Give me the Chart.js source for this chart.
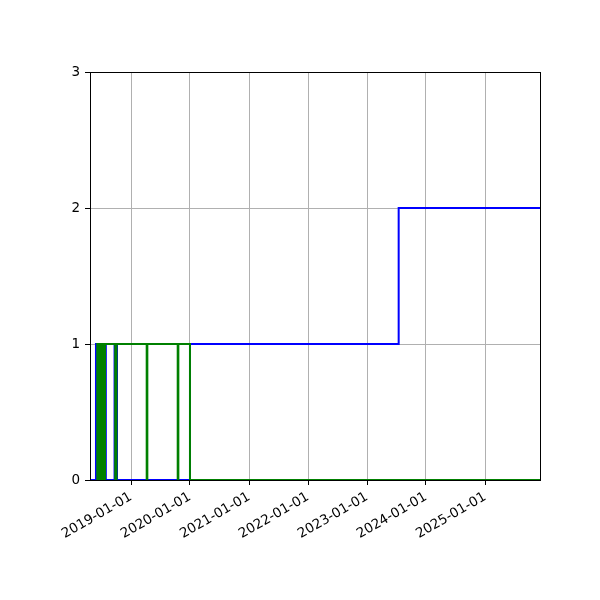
<!DOCTYPE html>
<html>
<head>
<meta charset="utf-8">
<script src="https://cdn.jsdelivr.net/npm/chart.js@4/dist/chart.umd.min.js"></script>
<style>
    body { margin: 0; background: #fff; }
    #wrap { width: 600px; height: 600px; }
</style>
</head>
<body>
<div id="wrap"><canvas id="stepChart" width="600" height="600"></canvas></div>
<script>
// series (dates where the step changes, value held until next date)
const blueDates = ['2018-04-22', '2018-05-29', '2018-07-29', '2018-09-21', '2018-10-06', '2020-01-01', '2023-07-16', '2025-12-07'];
const blueValues = [0, 1, 0, 1, 0, 1, 2, 2];

const greenDates = ['2018-06-02', '2018-06-06', '2018-06-10', '2018-06-14', '2018-06-18', '2018-06-22', '2018-06-26',
    '2018-06-30', '2018-07-04', '2018-07-08', '2018-07-12', '2018-07-16', '2018-07-20', '2018-07-24',
    '2018-09-25', '2018-10-03', '2019-04-08', '2019-04-12', '2019-10-17', '2019-10-21', '2020-01-01', '2025-12-07'];
const greenValues = [0, 1, 0, 1, 0, 1, 0, 1, 0, 1, 0, 1, 0, 1, 0, 1, 0, 1, 0, 1, 0, 0];

const xTickLabels = ['2019-01-01', '2020-01-01', '2021-01-01', '2022-01-01', '2023-01-01', '2024-01-01', '2025-01-01'];
const yTicks = [0, 1, 2, 3];
const xRange = ['2018-04-22', '2025-12-07'];

function toTime(s) {
    return Date.parse(s + 'T00:00:00Z');
}

function toPoints(dates, values) {
    return dates.map((d, i) => ({x: toTime(d), y: values[i]}));
}

function fmtDate(t) {
    return new Date(t).toISOString().slice(0, 10);
}

const frame = {
    id: 'frame',
    afterDraw(chart) {
        const a = chart.chartArea;
        const ctx = chart.ctx;
        ctx.save();
        ctx.strokeStyle = '#000';
        ctx.lineWidth = 1;
        ctx.strokeRect(Math.round(a.left) + 0.5, Math.round(a.top) + 0.5, Math.round(a.right - a.left), Math.round(a.bottom - a.top));
        ctx.restore();
    }
};

Chart.defaults.font.family = "'DejaVu Sans', sans-serif";
Chart.defaults.font.size = 13.5;
Chart.defaults.color = '#000';

var ctx = document.getElementById('stepChart').getContext('2d');
var stepChart = new Chart(ctx, {
    type: 'line',
    data: {
        datasets: [
            {
                data: toPoints(blueDates, blueValues),
                borderColor: '#0000ff',
                borderWidth: 2,
                stepped: true,
                pointRadius: 0,
                fill: false,
                order: 2
            },
            {
                data: toPoints(greenDates, greenValues),
                borderColor: '#008000',
                borderWidth: 2,
                stepped: true,
                pointRadius: 0,
                fill: false,
                order: 1
            }
        ]
    },
    options: {
        responsive: false,
        animation: false,
        layout: {padding: {top: 72, right: 60, left: 0, bottom: 0}},
        plugins: {legend: {display: false}, tooltip: {enabled: false}},
        scales: {
            x: {
                type: 'linear',
                min: toTime(xRange[0]),
                max: toTime(xRange[1]),
                afterBuildTicks(scale) {
                    scale.ticks = xTickLabels.map(l => ({value: toTime(l)}));
                },
                afterFit(scale) {
                    scale.height = 120;
                },
                ticks: {
                    callback: (v) => fmtDate(v),
                    minRotation: 30,
                    maxRotation: 30,
                    padding: 4,
                    autoSkip: false
                },
                grid: {color: '#b0b0b0', lineWidth: 1, tickColor: '#000', tickLength: 5},
                border: {color: '#000', width: 1}
            },
            y: {
                min: 0,
                max: 3,
                afterBuildTicks(scale) {
                    scale.ticks = yTicks.map(v => ({value: v}));
                },
                afterFit(scale) {
                    scale.width = 90;
                },
                ticks: {padding: 5},
                grid: {color: '#b0b0b0', lineWidth: 1, tickColor: '#000', tickLength: 5},
                border: {color: '#000', width: 1}
            }
        }
    },
    plugins: [frame]
});
</script>
</body>
</html>
